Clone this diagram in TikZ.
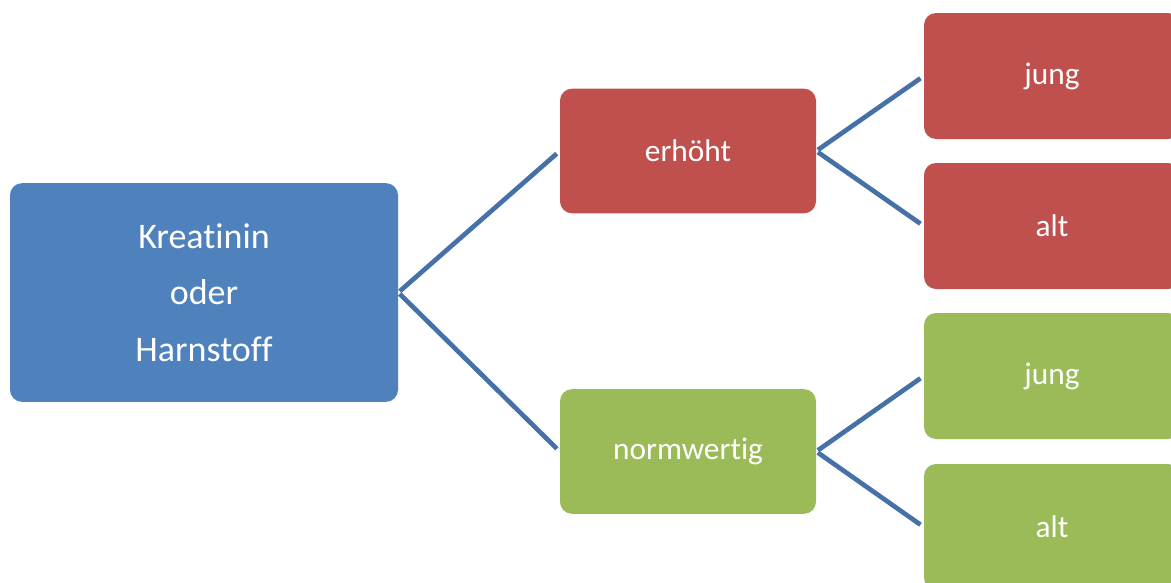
\documentclass[tikz,border=0pt]{standalone}
\usepackage{fontspec}
\setmainfont[RawFeature={-liga}]{Carlito}
\definecolor{boxblue}{HTML}{4F81BD}
\definecolor{boxred}{HTML}{C0504D}
\definecolor{boxgreen}{HTML}{9BBB59}
\definecolor{linkblue}{HTML}{4571A8}
\begin{document}
\begin{tikzpicture}[x=0.75pt,y=-0.75pt,
  box/.style={rounded corners=9pt, inner sep=0pt, text=white, align=center},
  rootbox/.style={box, fill=boxblue, minimum width=291pt, minimum height=164pt,
    font=\fontsize{27}{42.4}\selectfont},
  midbox/.style={box, minimum width=192pt, minimum height=93.5pt,
    font=\fontsize{23.5}{28}\selectfont},
  leafbox/.style={box, minimum width=192pt, minimum height=94.5pt,
    font=\fontsize{23.5}{28}\selectfont},
  link/.style={draw=linkblue, line width=3.5pt, shorten <=1.5pt, shorten >=3pt}]
\clip (0,0) rectangle (1171,582);
\fill[white] (0,0) rectangle (1171,582);
\node[rootbox] (root) at (204,292.5) {Kreatinin\\oder\\Harnstoff};
\node[midbox, fill=boxred] (hi) at (688,151) {erhöht};
\node[midbox, fill=boxgreen] (norm) at (688,451.5) {normwertig};
\node[leafbox, fill=boxred] (hiyoung) at (1052,76) {jung};
\node[leafbox, fill=boxred] (hiold) at (1052,226) {alt};
\node[leafbox, fill=boxgreen] (normyoung) at (1052,376) {jung};
\node[leafbox, fill=boxgreen] (normold) at (1052,527) {alt};
\coordinate (rootout) at (root.east);
\draw[link] (rootout) -- (hi.west);
\draw[link] (rootout) -- (norm.west);
\draw[link] (hi.east) -- (hiyoung.west);
\draw[link] (hi.east) -- (hiold.west);
\draw[link] (norm.east) -- (normyoung.west);
\draw[link] (norm.east) -- (normold.west);
\end{tikzpicture}
\end{document}
